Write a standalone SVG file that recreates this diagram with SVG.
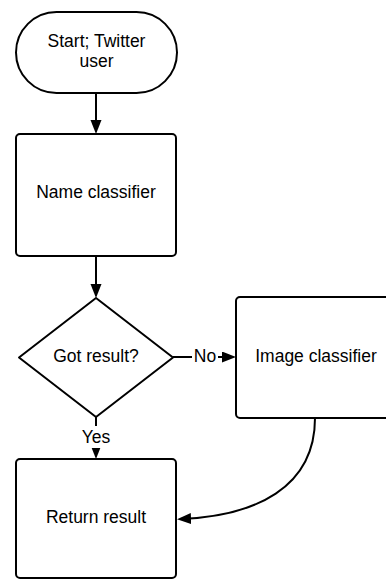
<svg xmlns="http://www.w3.org/2000/svg" width="386" height="580" viewBox="0 0 386 580">
<defs>
<style>
.shape{fill:#fff;stroke:#000;stroke-width:2}
.conn{fill:none;stroke:#000;stroke-width:2}
text{font-family:"Liberation Sans",Arial,sans-serif;font-size:17.5px;fill:#000;text-anchor:middle}
.bg{fill:#fff}
</style>
<marker id="arr" markerUnits="userSpaceOnUse" markerWidth="16" markerHeight="12" refX="10" refY="5.5" orient="auto">
<path d="M0,0 L14,5.5 L0,11 z" fill="#000"/>
</marker>
</defs>
<rect width="386" height="580" fill="#fff"/>
<g id="connectors">
<path class="conn" d="M96,93 L96,130" marker-end="url(#arr)"/>
<path class="conn" d="M96,256 L96,294" marker-end="url(#arr)"/>
<path class="conn" d="M96,417 L96,455" marker-end="url(#arr)"/>
<path class="conn" d="M173,357 L232,357" marker-end="url(#arr)"/>
<path class="conn" d="M315,418 C315,488 255,516 181,519" marker-end="url(#arr)"/>
<g id="label-no"><rect class="bg" x="192" y="347" width="26" height="20"/><text x="205" y="362">No</text></g>
<g id="label-yes"><rect class="bg" x="81" y="426" width="30" height="22"/><text x="96" y="443">Yes</text></g>
</g>
<g id="start">
<rect class="shape" x="16" y="12" width="161" height="81" rx="40.5" ry="40.5"/>
<text x="96.5" y="47">Start; Twitter</text>
<text x="96.5" y="67">user</text>
</g>
<g id="name-classifier">
<rect class="shape" x="16" y="134" width="160" height="122" rx="4" ry="4"/>
<text x="96" y="198">Name classifier</text>
</g>
<g id="got-result">
<polygon class="shape" points="96,298 173,357.5 96,417 19,357.5" stroke-linejoin="round"/>
<text x="96" y="362">Got result?</text>
</g>
<g id="image-classifier">
<rect class="shape" x="236" y="297" width="160" height="121" rx="4" ry="4"/>
<text x="316" y="362">Image classifier</text>
</g>
<g id="return-result">
<rect class="shape" x="16" y="459" width="160" height="119" rx="4" ry="4"/>
<text x="96" y="523">Return result</text>
</g>
</svg>
